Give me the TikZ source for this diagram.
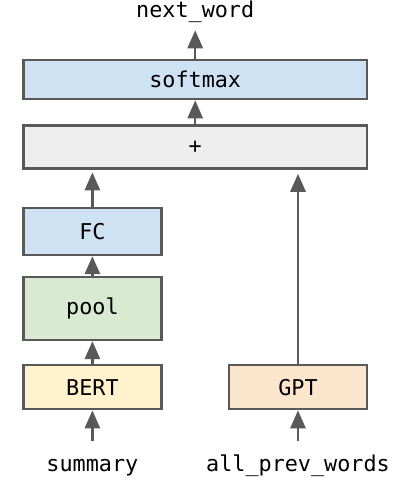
\documentclass[tikz,border=0pt]{standalone}
\usepackage{xcolor}
\usepackage{fontspec}
\setmonofont{DejaVu Sans Mono}
\usepackage{tikz}
\usetikzlibrary{arrows.meta}
\definecolor{edgegray}{HTML}{595959}
\definecolor{bluefill}{HTML}{CFE2F3}
\definecolor{grayfill}{HTML}{EEEEEE}
\definecolor{greenfill}{HTML}{D9EAD3}
\definecolor{yellowfill}{HTML}{FFF2CC}
\definecolor{orangefill}{HTML}{FCE5CD}
\tikzset{
	box/.style={draw=edgegray, line width=1.7pt, inner sep=0pt, font=\ttfamily\fontsize{15.5}{18}\selectfont},
	lbl/.style={inner sep=0pt, text height=0.3cm, text depth=0pt, font=\ttfamily\fontsize{15.5}{18}\selectfont},
	arr/.style={draw=edgegray, line width=1.7pt, -{Triangle[length=0.45cm, width=0.38cm]}, fill=edgegray}
}

\begin{document}
\begin{tikzpicture}
	\useasboundingbox (0,0) rectangle (10.3,12.1);
	\node[box, fill=bluefill, minimum width=8.58cm, minimum height=0.98cm] at (4.88,10.11) (softmax) {softmax};
	\node[box, fill=grayfill, minimum width=8.58cm, minimum height=1.07cm] at (4.88,8.425) (plus) {+};
	\node[box, fill=bluefill, minimum width=3.45cm, minimum height=1.17cm] at (2.31,6.31) (fc) {FC};
	\node[box, fill=greenfill, minimum width=3.45cm, minimum height=1.58cm] at (2.31,4.39) (pool) {pool};
	\node[box, fill=yellowfill, minimum width=3.45cm, minimum height=1.1cm] at (2.31,2.42) (bert) {BERT};
	\node[box, fill=orangefill, minimum width=3.45cm, minimum height=1.1cm] at (7.45,2.42) (gpt) {GPT};
	\node[lbl, anchor=base] at (4.88,11.67) (next_word) {next\_word};
	\node[lbl, anchor=base] at (2.31,0.31) (summary) {summary};
	\node[lbl, anchor=base] at (7.45,0.31) (all_prev) {all\_prev\_words};
	\draw[arr, shorten >=0.32cm] (softmax) -- (next_word);
	\draw[arr] (plus) -- (softmax);
	\draw[arr, shorten >=2pt] (fc.north) -- (fc.north |- plus.south);
	\draw[arr, shorten >=3pt] (gpt.north) -- (gpt.north |- plus.south);
	\draw[arr] (pool) -- (fc);
	\draw[arr] (bert) -- (pool);
	\draw[arr, shorten <=0.45cm] (summary) -- (bert);
	\draw[arr, shorten <=0.45cm] (all_prev) -- (gpt);
\end{tikzpicture}
\end{document}
